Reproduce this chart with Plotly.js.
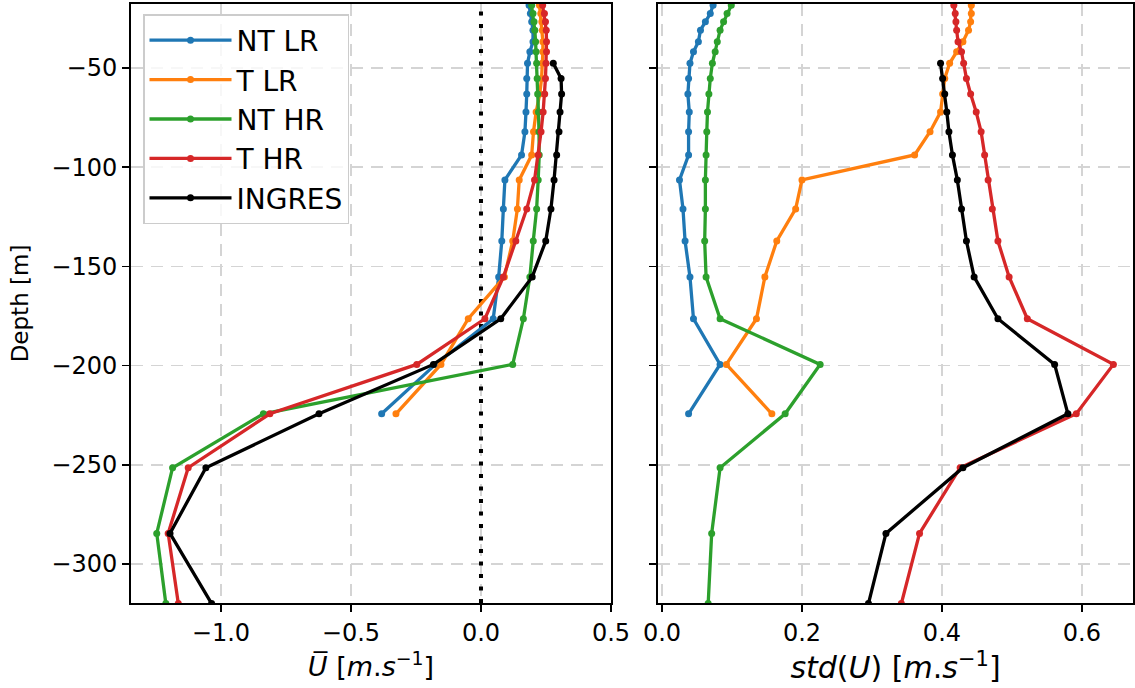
<!DOCTYPE html>
<html>
<head>
<meta charset="utf-8">
<script src="https://cdn.plot.ly/plotly-3.0.1.min.js"></script>
<style>html,body{margin:0;padding:0;background:#fff;}#chart{width:1135px;height:688px;}</style>
</head>
<body>
<div id="chart"></div>
<script>
// Depth levels [m]
const depth = [-14, -18.3, -22.5, -26.7, -30.9, -36.7, -41.8, -47.6, -55.2, -63.1, -72.2, -82.1, -93.8, -106.4, -121, -137.2, -155.3, -176.4, -199.4, -224.3, -251.5, -284.6, -320];
const depthLR = depth.slice(0, 20);
const depthIngres = depth.slice(7);

// Mean velocity U [m/s]
const ntlrMean = [0.18, 0.185, 0.19, 0.195, 0.2, 0.2, 0.188, 0.179, 0.176, 0.176, 0.173, 0.169, 0.156, 0.092, 0.086, 0.080, 0.068, 0.047, -0.175, -0.382];
const tlrMean = [0.222, 0.225, 0.23, 0.234, 0.236, 0.238, 0.238, 0.236, 0.233, 0.226, 0.212, 0.202, 0.195, 0.147, 0.140, 0.122, 0.09, -0.049, -0.154, -0.327];
const nthrMean = [0.19, 0.195, 0.2, 0.204, 0.207, 0.21, 0.212, 0.214, 0.216, 0.218, 0.221, 0.223, 0.224, 0.220, 0.214, 0.201, 0.188, 0.163, 0.122, -0.837, -1.186, -1.247, -1.212];
const thrMean = [0.232, 0.237, 0.244, 0.248, 0.251, 0.252, 0.252, 0.250, 0.248, 0.245, 0.239, 0.231, 0.220, 0.206, 0.176, 0.134, 0.086, 0.015, -0.247, -0.812, -1.126, -1.203, -1.164];
const ingresMean = [0.278, 0.308, 0.310, 0.304, 0.300, 0.291, 0.281, 0.269, 0.249, 0.197, 0.076, -0.183, -0.623, -1.058, -1.196, -1.036];

// Standard deviation std(U) [m/s]
const ntlrStd = [0.080, 0.073, 0.069, 0.062, 0.055, 0.052, 0.045, 0.040, 0.038, 0.037, 0.039, 0.038, 0.038, 0.025, 0.030, 0.033, 0.040, 0.045, 0.083, 0.038];
const tlrStd = [0.442, 0.442, 0.442, 0.441, 0.438, 0.430, 0.421, 0.411, 0.404, 0.401, 0.398, 0.383, 0.361, 0.200, 0.191, 0.164, 0.147, 0.135, 0.092, 0.157];
const nthrStd = [0.105, 0.099, 0.093, 0.088, 0.083, 0.079, 0.076, 0.072, 0.069, 0.067, 0.065, 0.064, 0.063, 0.062, 0.062, 0.061, 0.063, 0.083, 0.226, 0.176, 0.083, 0.071, 0.066];
const thrStd = [0.416, 0.417, 0.419, 0.420, 0.421, 0.423, 0.428, 0.431, 0.435, 0.441, 0.449, 0.456, 0.461, 0.466, 0.472, 0.480, 0.496, 0.522, 0.645, 0.592, 0.426, 0.368, 0.342];
const ingresStd = [0.398, 0.401, 0.404, 0.407, 0.410, 0.415, 0.422, 0.428, 0.435, 0.446, 0.480, 0.561, 0.580, 0.430, 0.320, 0.295];

const seriesNames = ['NT LR', 'T LR', 'NT HR', 'T HR', 'INGRES'];
const seriesColors = ['#1f77b4', '#ff7f0e', '#2ca02c', '#d62728', '#000000'];

const yTickVals = [-50, -100, -150, -200, -250, -300];
const yTickText = ['−50', '−100', '−150', '−200', '−250', '−300'];
const x1TickVals = [-1.0, -0.5, 0.0, 0.5];
const x1TickText = ['−1.0', '−0.5', '0.0', '0.5'];
const x2TickVals = [0.0, 0.2, 0.4, 0.6];
const x2TickText = ['0.0', '0.2', '0.4', '0.6'];
const yRange = [-319.7, -17.7];
const zeroLineX = [0, 0];

const meanData = [ntlrMean, tlrMean, nthrMean, thrMean, ingresMean];
const stdData = [ntlrStd, tlrStd, nthrStd, thrStd, ingresStd];
const depthFor = [depthLR, depthLR, depth, depth, depthIngres];

const traces = [];
// dotted reference line at U = 0 (drawn first so the profiles lie over it)
traces.push({
  type: 'scatter', mode: 'lines', x: zeroLineX, y: yRange, xaxis: 'x', yaxis: 'y',
  line: {color: '#000', width: 4, dash: '4px,8.5px'}, showlegend: false, hoverinfo: 'skip'
});
for (let i = 0; i < 5; i++) {
  traces.push({
    type: 'scatter', mode: 'lines+markers', name: seriesNames[i],
    x: meanData[i], y: depthFor[i], xaxis: 'x', yaxis: 'y',
    line: {color: seriesColors[i], width: 3.3},
    marker: {color: seriesColors[i], size: 7},
    legendgroup: 'g' + i, showlegend: true
  });
}
for (let i = 0; i < 5; i++) {
  traces.push({
    type: 'scatter', mode: 'lines+markers', name: seriesNames[i],
    x: stdData[i], y: depthFor[i], xaxis: 'x2', yaxis: 'y2',
    line: {color: seriesColors[i], width: 3.3},
    marker: {color: seriesColors[i], size: 7},
    legendgroup: 'g' + i, showlegend: false
  });
}

const W = 1135, H = 688;
const gridCommon = {
  showgrid: true, gridcolor: '#d4d4d4', gridwidth: 1.5, griddash: '12px,8px',
  zeroline: false, showline: true, mirror: true, linecolor: '#000', linewidth: 2,
  ticks: 'outside', ticklen: 7, tickwidth: 1.6, tickcolor: '#000',
  tickfont: {family: 'DejaVu Sans', size: 24, color: '#000'}
};

const layout = {
  width: W, height: H,
  margin: {l: 0, r: 0, t: 0, b: 0},
  paper_bgcolor: '#fff', plot_bgcolor: '#fff',
  font: {family: 'DejaVu Sans', size: 24, color: '#000'},
  showlegend: true,
  legend: {
    x: 143 / W, y: 1 - 14 / H, xanchor: 'left', yanchor: 'top',
    font: {family: 'DejaVu Sans', size: 28, color: '#000'},
    bordercolor: '#cccccc', borderwidth: 1.5, bgcolor: 'rgba(255,255,255,0.8)',
    tracegroupgap: 0, itemwidth: 82
  },
  xaxis: Object.assign({}, gridCommon, {
    domain: [131 / W, 611 / W], range: [-1.346, 0.5], anchor: 'y',
    tickvals: x1TickVals, ticktext: x1TickText,
    title: {text: '<i>U̅</i> [<i>m</i>.<i>s</i><sup>−1</sup>]', font: {family: 'DejaVu Sans', size: 27}, standoff: 5}
  }),
  yaxis: Object.assign({}, gridCommon, {
    domain: [1 - 603 / H, 1 - 4 / H], range: yRange, anchor: 'x',
    tickvals: yTickVals, ticktext: yTickText,
    title: {text: 'Depth [m]', font: {family: 'DejaVu Sans', size: 23}, standoff: 16}
  }),
  xaxis2: Object.assign({}, gridCommon, {
    domain: [658 / W, 1133 / W], range: [-0.0057, 0.673], anchor: 'y2',
    tickvals: x2TickVals, ticktext: x2TickText,
    title: {text: '<i>std</i>(<i>U</i>) [<i>m</i>.<i>s</i><sup>−1</sup>]', font: {family: 'DejaVu Sans', size: 30}, standoff: 3}
  }),
  yaxis2: Object.assign({}, gridCommon, {
    domain: [1 - 603 / H, 1 - 4 / H], range: yRange, anchor: 'x2', matches: 'y',
    tickvals: yTickVals, ticktext: yTickText, showticklabels: false
  })
};

Plotly.newPlot('chart', traces, layout, {displayModeBar: false, staticPlot: true});
</script>
</body>
</html>
